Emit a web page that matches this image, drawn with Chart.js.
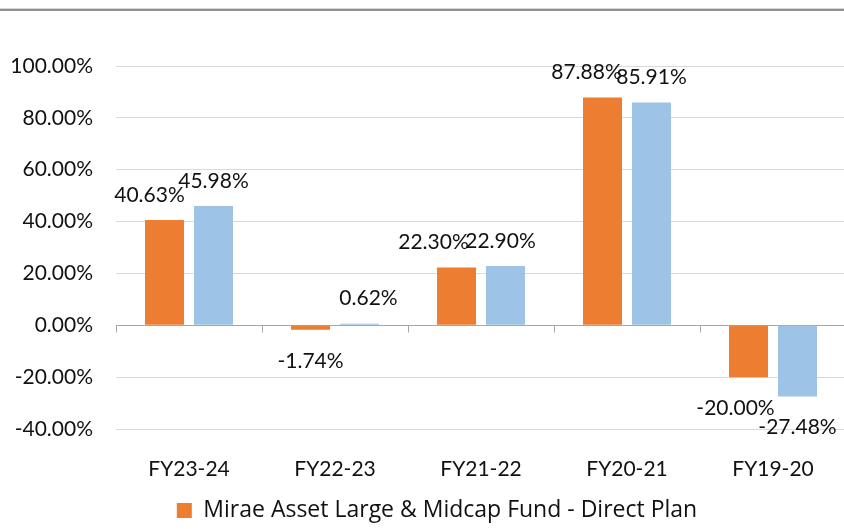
<!DOCTYPE html>
<html>
<head>
<meta charset="utf-8">
<script src="https://cdn.jsdelivr.net/npm/chart.js@4.4.1/dist/chart.umd.min.js"></script>
<style>
  html, body { margin: 0; padding: 0; background: #fff; overflow: hidden; }
  #wrap { position: relative; width: 846px; height: 529px; }
</style>
</head>
<body>
<div id="wrap"><canvas id="c"></canvas></div>
<script>
const categories = ["FY23-24", "FY22-23", "FY21-22", "FY20-21", "FY19-20"];
const fundReturns = [40.63, -1.74, 22.30, 87.88, -20.00];
const benchmarkReturns = [45.98, 0.62, 22.90, 85.91, -27.48];
const seriesNames = ["Mirae Asset Large & Midcap Fund - Direct Plan", "Benchmark"];
const yTicks = [100, 80, 60, 40, 20, 0, -20, -40];

const FONT = "Lato, 'Open Sans', sans-serif";
const LEGEND_FONT = "'Open Sans', Lato, sans-serif";
const FS = 21;
const LFS = 23;

// small label nudges (style only) to mimic the reference placement
const labelNudge = [
  [-15, 0, -23, -16, -13],
  [0, 9, -5, 0, 0]
];

const topRule = {
  id: 'topRule',
  beforeDraw(chart) {
    const ctx = chart.ctx;
    ctx.save();
    ctx.fillStyle = '#d6d6d6';
    ctx.fillRect(0, 8, chart.width, 1);
    ctx.fillStyle = '#8f8f8f';
    ctx.fillRect(0, 9, chart.width, 2);
    ctx.restore();
  }
};

const legendShift = {
  id: 'legendShift',
  afterLayout(chart) {
    if (chart.legend) {
      chart.legend.left += 14;
      chart.legend.right += 14;
    }
  }
};

const axisTicks = {
  id: 'axisTicks',
  afterDatasetsDraw(chart) {
    const x = chart.scales.x, y = chart.scales.y;
    const ctx = chart.ctx;
    const y0 = Math.round(y.getPixelForValue(0)) + 0.5;
    const step = x.getPixelForValue(1) - x.getPixelForValue(0);
    ctx.save();
    ctx.strokeStyle = '#a6a6a6';
    ctx.lineWidth = 1;
    ctx.beginPath();
    for (let i = 0; i <= categories.length; i++) {
      const px = Math.round(x.getPixelForValue(i) - step / 2) + 0.5;
      ctx.moveTo(px, y0);
      ctx.lineTo(px, y0 + 7);
    }
    ctx.stroke();
    ctx.restore();
  }
};

const dataLabels = {
  id: 'dataLabels',
  afterDatasetsDraw(chart) {
    const ctx = chart.ctx;
    ctx.save();
    ctx.font = FS + 'px ' + FONT;
    ctx.fillStyle = '#111';
    ctx.textAlign = 'center';
    ctx.textBaseline = 'middle';
    chart.data.datasets.forEach((ds, di) => {
      const meta = chart.getDatasetMeta(di);
      meta.data.forEach((bar, i) => {
        const v = ds.data[i];
        const txt = v.toFixed(2) + '%';
        const yy = v >= 0 ? bar.y - 25 : bar.y + 31;
        ctx.fillText(txt, bar.x + labelNudge[di][i], yy);
      });
    });
    ctx.restore();
  }
};

new Chart(document.getElementById('c'), {
  type: 'bar',
  data: {
    labels: categories,
    datasets: [
      { label: seriesNames[0], data: fundReturns, backgroundColor: '#ED7D31',
        categoryPercentage: 0.671, barPercentage: 0.796 },
      { label: seriesNames[1], data: benchmarkReturns, backgroundColor: '#9DC3E6',
        categoryPercentage: 0.671, barPercentage: 0.796 }
    ]
  },
  options: {
    responsive: true,
    maintainAspectRatio: false,
    animation: false,
    layout: { padding: { left: 0, right: 0, top: 66, bottom: -3 } },
    plugins: {
      legend: {
        position: 'bottom',
        labels: {
          font: { family: LEGEND_FONT, size: LFS },
          color: '#111',
          boxWidth: 15,
          boxHeight: 15,
          padding: 10,
          filter: (item) => item.datasetIndex === 0
        }
      },
      tooltip: { enabled: false }
    },
    scales: {
      x: {
        grid: { display: false },
        border: { display: false },
        ticks: { font: { family: FONT, size: FS }, color: '#111', padding: 20 },
        afterFit(scale) { scale.height = 60; }
      },
      y: {
        min: -40,
        max: 100,
        afterBuildTicks(scale) { scale.ticks = yTicks.map(v => ({ value: v })); },
        grid: {
          drawTicks: false,
          color: (c) => (c.tick && c.tick.value === 0) ? '#a6a6a6' : '#d9d9d9',
          lineWidth: 1
        },
        border: { display: false },
        ticks: {
          font: { family: FONT, size: FS },
          color: '#111',
          padding: 23,
          callback: (v) => v.toFixed(2) + '%'
        },
        afterFit(scale) { scale.width = 116; }
      }
    }
  },
  plugins: [topRule, legendShift, axisTicks, dataLabels]
});
</script>
</body>
</html>
